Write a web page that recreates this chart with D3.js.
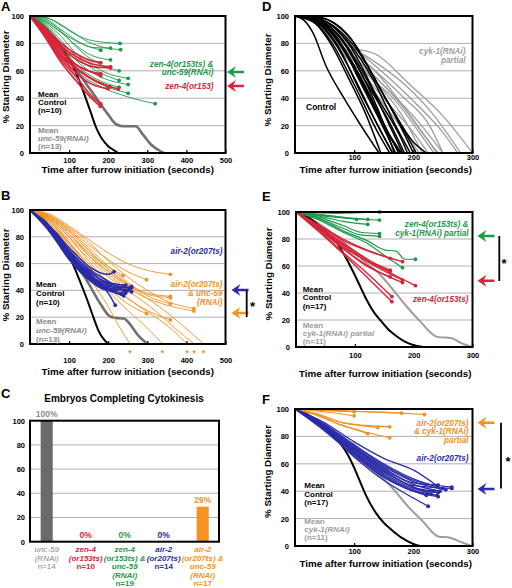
<!DOCTYPE html>
<html><head><meta charset="utf-8">
<script src="https://cdn.jsdelivr.net/npm/d3@7"></script>
<style>body{margin:0;background:#fff}svg{display:block}text{font-family:"Liberation Sans",Arial,sans-serif}</style>
</head><body><svg id="c" width="512" height="588"></svg>
<script>
// ---------- DATA ----------
const yTicks = [0,20,40,60,80,100];
const gridVals = [20,40,60,80];
const xTicks500 = [100,200,300,400,500];
const xTicks300 = [100,200,300];

// Panel A
const meanCtrlA = [[0,100],[30,94],[60,85],[80,78],[100,69],[120,57],[140,42],[155,30],[170,18],[185,10],[200,5],[215,2],[225,0]];
const meanUncA = [[0,100],[50,85],[100,68],[150,48],[180,36],[200,28],[220,21],[240,19.5],[270,19.5],[290,13],[310,6],[330,2],[342,0]];
const greenA = [
 [[0,100],[40,99],[80,93],[120,86],[160,82],[230,80]],
 [[0,100],[40,98],[80,90],[120,82],[160,77],[206,76.6]],
 [[0,100],[50,98],[100,90],[150,81],[190,77],[232,75.4]],
 [[0,100],[40,96],[80,88],[130,80],[181,75]],
 [[0,100],[40,96],[80,88],[120,78],[160,71],[206,68]],
 [[0,100],[40,95],[80,85],[120,72],[170,62],[210,57],[251,54.5]],
 [[0,100],[40,94],[80,82],[120,70],[170,60],[228,53]],
 [[0,100],[40,93],[80,80],[120,67],[170,57],[251,50]],
 [[0,100],[40,92],[80,78],[120,64],[170,54],[228,48]],
 [[0,100],[40,92],[80,78],[120,62],[170,52],[251,43.6]],
 [[0,100],[40,91],[80,76],[120,60],[170,50],[250,41],[320,36]],
 [[0,100],[40,97],[80,89],[120,77],[170,66],[228,60]]
];
const redA = [
 [[0,100],[40,91],[80,80],[120,72],[150,68],[181,66]],
 [[0,100],[40,90],[80,78],[120,70],[160,65],[206,63]],
 [[0,100],[40,90],[80,77],[120,68],[160,63],[206,62]],
 [[0,100],[40,88],[80,74],[120,64],[150,60],[181,56.4]],
 [[0,100],[40,87],[80,72],[120,62],[160,54],[204,48.4]],
 [[0,100],[40,87],[80,71],[120,61],[170,52],[226,46.7]],
 [[0,100],[40,85],[80,68],[120,55],[150,44],[181,35.8]],
 [[0,100],[40,84],[80,66],[120,52],[150,42],[180,34]],
 [[0,100],[40,86],[80,70],[120,58],[160,50],[200,47]],
 [[0,100],[40,89],[80,75],[120,64],[160,59],[181,58]]
];

// Panel B
const meanCtrlB = [[0,100],[30,95],[51,87],[75,80],[94,70],[115,56],[137,40],[150,30],[162,20],[175,10],[190,3],[200,0]];
const meanUncB = [[0,100],[50,87],[100,68],[150,45],[180,30],[205,20.5],[220,19.5],[240,19],[255,15],[275,7],[300,0]];
const blueB = [
 [[0,100],[50,88],[100,70],[150,55],[200,45],[240,43]],
 [[0,100],[50,86],[100,68],[150,53],[200,43],[260,42]],
 [[0,100],[50,87],[100,69],[150,52],[200,42],[250,40]],
 [[0,100],[50,85],[100,66],[150,50],[200,40],[245,38]],
 [[0,100],[50,87],[100,67],[150,52],[200,41],[260,39]],
 [[0,100],[50,84],[100,64],[150,49],[200,40],[240,36]],
 [[0,100],[50,88],[100,72],[150,58],[200,52],[215,54]],
 [[0,100],[50,85],[100,65],[150,50],[200,38],[218,29]],
 [[0,100],[50,86],[100,67],[150,51],[200,42],[235,37]],
 [[0,100],[50,84],[100,63],[150,48],[200,40],[255,41]],
 [[0,100],[50,87],[100,68],[150,54],[200,46],[245,44]],
 [[0,100],[50,86],[100,66],[150,52],[200,44],[230,41]],
 [[0,100],[50,85],[100,65],[150,50],[200,41],[260,43]],
 [[0,100],[50,88],[100,70],[150,56],[200,47],[240,40]]
];
const orangeB = [
 [[0,100],[50,97],[100,88],[150,78],[200,68],[250,60],[300,55],[359,52]],
 [[0,100],[50,96],[100,86],[150,74],[200,63],[250,54],[298,48]],
 [[0,100],[50,94],[100,82],[150,68],[200,58],[238,51]],
 [[0,100],[50,95],[100,84],[150,70],[200,56],[250,45],[300,38],[359,35.6]],
 [[0,100],[50,93],[100,80],[150,66],[200,54],[250,44],[300,37],[359,34.5]],
 [[0,100],[50,92],[100,78],[150,64],[200,50],[258,39]],
 [[0,100],[50,95],[100,85],[150,72],[200,58],[250,46],[300,36],[359,30]],
 [[0,100],[50,96],[100,87],[150,76],[200,62],[250,50],[300,40],[350,32],[419,26.4]],
 [[0,100],[50,94],[100,82],[150,68],[200,54],[250,42],[300,34],[350,29],[419,24.6]],
 [[0,100],[50,91],[100,75],[150,58],[200,42],[250,30],[298,22.6]],
 [[0,100],[50,92],[100,76],[150,60],[200,46],[250,34],[300,25],[359,18]],
 [[0,100],[50,90],[100,74],[150,57],[200,44],[230,40]]
];
const orangeDoneB = [
 [[0,100],[50,90],[100,72],[150,50],[200,28],[230,12],[256,0]],
 [[0,100],[50,92],[100,76],[150,58],[200,40],[250,25],[300,12],[339,0]],
 [[0,100],[50,93],[100,80],[150,62],[200,46],[250,34],[300,24],[350,14],[402,0]],
 [[0,100],[50,94],[100,82],[150,66],[200,52],[260,38],[320,25],[370,12],[420,0]],
 [[0,100],[50,95],[100,84],[150,70],[200,56],[260,42],[330,28],[390,14],[444,0]]
];

// Panel C
const cCats = ["unc-59 (RNAi)","zen-4 (or153ts)","zen-4 (or153ts) & unc-59 (RNAi)","air-2 (or207ts)","air-2 (or207ts) & unc-59 (RNAi)"];
const cValues = [100,0,0,0,29];
const cN = [14,10,19,14,17];
const cLabelLines = [["unc-59","(RNAi)"],["zen-4","(or153ts)"],["zen-4","(or153ts) &","unc-59","(RNAi)"],["air-2","(or207ts)"],["air-2","(or207ts) &","unc-59","(RNAi)"]];

// Panel D
const ctrlD = [
 [[0,100],[15,97],[30,88],[53,63],[80,42],[110,21],[142,0]],
 [[0,100],[30,97],[60,85],[100,55],[140,20],[165,0]],
 [[0,100],[30,96],[60,82],[100,50],[140,15],[160,0]],
 [[0,100],[30,98],[70,85],[110,52],[150,18],[170,0]],
 [[0,100],[30,97],[70,80],[110,45],[150,12],[165,0]],
 [[0,100],[30,99],[70,88],[120,55],[160,20],[182,0]],
 [[0,100],[30,98],[70,84],[120,48],[160,12],[178,0]],
 [[0,100],[40,97],[80,82],[120,52],[160,22],[185,0]],
 [[0,100],[40,98],[80,86],[130,55],[170,20],[195,0]],
 [[0,100],[40,96],[80,78],[120,45],[150,20],[180,0]],
 [[0,100],[40,99],[90,86],[140,50],[180,18],[200,0]],
 [[0,100],[30,97],[60,88],[100,62],[140,30],[175,0]],
 [[0,100],[40,98],[90,80],[140,40],[180,10],[190,0]],
 [[0,100],[40,99],[100,80],[150,42],[190,12],[205,0]],
 [[0,100],[40,98],[100,78],[160,35],[200,8],[222,0]],
 [[0,100],[30,96],[60,80],[90,55],[120,28],[145,0]],
 [[0,100],[40,97],[80,82],[110,60],[140,32],[168,0]]
];
const cykD = [
 [[0,100],[40,95],[84,79],[141,71],[194,50],[248,28],[300,0]],
 [[0,100],[40,95],[84,80],[130,68],[180,52],[230,30],[280,0]],
 [[0,100],[40,94],[80,80],[130,62],[180,42],[230,18],[250,0]],
 [[0,100],[40,95],[80,78],[130,58],[180,35],[220,12],[242,0]],
 [[0,100],[40,94],[80,76],[120,58],[170,38],[210,15],[235,0]],
 [[0,100],[40,95],[80,78],[120,62],[160,45],[210,22],[250,0]],
 [[0,100],[40,93],[80,74],[120,55],[160,35],[200,15],[225,0]],
 [[0,100],[40,94],[80,77],[130,55],[180,28],[215,0]],
 [[0,100],[40,96],[90,80],[140,62],[200,38],[250,15],[275,0]],
 [[0,100],[40,93],[80,73],[120,52],[160,30],[210,0]],
 [[0,100],[40,95],[85,78],[135,60],[190,30],[240,0]]
];

// Panel E
const meanCtrlE = [[0,100],[25,95],[47,87],[70,77],[85,66],[98,55],[110,44],[120,35],[132,26],[143,20],[157,13],[171,8],[185,4],[199,1.5],[216,0]];
const meanCykE = [[0,100],[40,91],[80,78],[120,62],[140,55],[160,45],[188,30],[211,19],[240,7.5],[265,6.5],[280,3],[300,0]];
const redE = [
 [[0,100],[40,90],[80,80],[120,72],[160,65.7]],
 [[0,100],[40,90],[80,79],[130,70],[181,63.2]],
 [[0,100],[40,88],[80,76],[120,65],[160,57]],
 [[0,100],[40,87],[80,74],[120,64],[160,56]],
 [[0,100],[40,88],[80,75],[130,61],[181,49.6]],
 [[0,100],[40,87],[80,73],[130,58],[181,47.7]],
 [[0,100],[40,89],[80,77],[140,60],[203,45.4]],
 [[0,100],[40,86],[80,70],[120,55],[163,37.3]],
 [[0,100],[40,85],[80,69],[120,52],[163,33.6]],
 [[0,100],[40,87],[80,73],[120,60],[160,52]]
];
const greenE = [
 [[0,100],[70,99],[142,100]],
 [[0,100],[40,98],[80,96],[103,94.6]],
 [[0,100],[40,98],[80,96],[122,94.5]],
 [[0,100],[50,97],[100,95],[142,94]],
 [[0,100],[40,97],[80,93],[122,90.8]],
 [[0,100],[40,96],[80,90],[110,85],[142,84]],
 [[0,100],[40,95],[80,88],[110,83],[142,82]],
 [[0,100],[40,95],[80,86],[120,79],[150,72],[170,71],[185,65],[203,65]],
 [[0,100],[40,94],[80,85],[120,77],[150,68],[181,58.7]]
];

// Panel F
const meanCtrlF = [[0,100],[25,95],[47,88],[75,76],[90,66],[98,59],[110,47],[120,37],[137,24],[150,17],[160,13],[182,5.5],[200,1.5],[211,0]];
const meanCykF = [[0,100],[40,90],[80,76],[120,60],[160,44.5],[194,27.5],[216,18],[242,7],[262,6],[280,3],[298,0]];
const blueF = [
 [[0,100],[50,88],[100,72],[150,57],[200,46],[242,44.5]],
 [[0,100],[50,87],[100,70],[150,55],[200,44],[265,42]],
 [[0,100],[50,86],[100,68],[150,53],[200,42],[242,39]],
 [[0,100],[50,85],[100,67],[150,51],[200,40],[242,36]],
 [[0,100],[50,84],[100,66],[150,50],[200,40],[222,37]],
 [[0,100],[50,85],[100,65],[150,48],[200,35],[225,29]],
 [[0,100],[50,90],[100,76],[150,64],[202,55],[240,44]],
 [[0,100],[50,88],[100,73],[150,59],[200,48],[265,43]],
 [[0,100],[50,87],[100,71],[150,56],[200,45],[245,40]],
 [[0,100],[50,86],[100,69],[150,54],[200,43],[230,38]],
 [[0,100],[50,89],[100,74],[150,60],[200,49],[250,42]],
 [[0,100],[50,86],[100,68],[150,52],[200,41],[240,37]],
 [[0,100],[50,88],[100,72],[150,58],[200,47],[255,41]],
 [[0,100],[50,87],[100,70],[150,55],[200,43],[235,40]]
];
const orangeF = [
 [[0,100],[50,99],[100,98]],
 [[0,100],[50,98],[100,95]],
 [[0,100],[60,99],[120,98],[180,97]],
 [[0,100],[60,99],[120,98],[180,97],[219,96]],
 [[0,100],[40,96],[80,90],[110,88],[140,86.5]],
 [[0,100],[40,96],[80,90],[120,88],[160,87]],
 [[0,100],[40,95],[80,88],[110,84],[123,82]],
 [[0,100],[40,95],[80,88],[120,83],[160,79]]
];

// ---------- STYLE ----------
const GREEN="#1b9a48", RED="#d8253a", BLUE="#2b2ba8", ORANGE="#f39223", DGRAY="#717171", LGRAY="#9d9d9d", TGRAY="#8a8a8a";
const FONT='"Liberation Sans", Arial, sans-serif';

const svg = d3.select("#c");
const defs = svg.append("defs");

function txt(g, x, y, s, o={}) {
  return g.append("text").attr("x",x).attr("y",y).text(s)
    .attr("font-size", o.size||8.5).attr("font-weight", o.weight||"bold")
    .attr("font-style", o.italic?"italic":"normal")
    .attr("fill", o.color||"#000").attr("text-anchor", o.anchor||"start");
}
function block(g, x, y, dy, arr, o) { arr.forEach((s,i)=>txt(g,x,y+i*dy,s,o)); }
function arrow(g, x, y, color) {
  g.append("path").attr("fill",color)
   .attr("d",`M${x},${y}L${x+9},${y-6}L${x+6.5},${y-1.3}L${x+17},${y-1.3}L${x+17},${y+1.3}L${x+6.5},${y+1.3}L${x+9},${y+6}Z`);
}
function sigBar(g, x, y1, y2, sx, sy) {
  g.append("line").attr("x1",x).attr("x2",x).attr("y1",y1).attr("y2",y2).attr("stroke","#000").attr("stroke-width",1.8);
  txt(g, sx, sy, "*", {size:13});
}

function panel(o) {
  const x = d3.scaleLinear().domain([0,o.xmax]).range([o.x0,o.x1]);
  const y = d3.scaleLinear().domain([0,100]).range([o.y0,o.y1]);
  const g = svg.append("g");
  g.selectAll(null).data(gridVals).join("line")
    .attr("x1",o.x0).attr("x2",o.x1).attr("y1",d=>y(d)).attr("y2",d=>y(d))
    .attr("stroke","#b0b0b0").attr("stroke-width",1);
  defs.append("clipPath").attr("id","clip"+o.id).append("rect")
    .attr("x",o.x0).attr("y",o.y1).attr("width",o.x1-o.x0).attr("height",o.y0-o.y1);
  const lg = g.append("g").attr("clip-path",`url(#clip${o.id})`);
  const line = d3.line().x(d=>x(d[0])).y(d=>y(d[1])).curve(d3.curveMonotoneX);
  o.groups.forEach(gr=>{
    lg.selectAll(null).data(gr.lines).join("path").attr("d",line)
      .attr("fill","none").attr("stroke",gr.color).attr("stroke-width",gr.w)
      .attr("stroke-linejoin","round").attr("stroke-linecap","round");
    if (gr.dots) g.selectAll(null).data(gr.lines).join("circle")
      .attr("cx",l=>x(l[l.length-1][0])).attr("cy",l=>y(l[l.length-1][1]))
      .attr("r",1.9).attr("fill",gr.color);
  });
  g.append("rect").attr("x",o.x0).attr("y",o.y1).attr("width",o.x1-o.x0).attr("height",o.y0-o.y1)
    .attr("fill","none").attr("stroke","#000").attr("stroke-width",2);
  const ya = g.append("g").attr("transform",`translate(${o.x0},0)`)
    .call(d3.axisLeft(y).tickValues(yTicks).tickSize(0).tickPadding(o.yPad||6));
  ya.select(".domain").remove();
  ya.selectAll("text").attr("font-size",7.5).attr("font-weight","bold").attr("font-family",FONT).attr("fill","#000");
  const xa = g.append("g").attr("transform",`translate(0,${o.y0})`)
    .call(d3.axisBottom(x).tickValues(o.xticks).tickSizeInner(-3).tickSizeOuter(0).tickPadding(o.xPad));
  xa.select(".domain").remove();
  xa.selectAll("line").attr("stroke","#000").attr("stroke-width",1.2);
  xa.selectAll("text").attr("font-size",7.5).attr("font-weight","bold").attr("font-family",FONT).attr("fill","#000");
  txt(g, (o.x0+o.x1)/2+o.tdx, o.tY, "Time after furrow initiation (seconds)", {size:9.8, anchor:"middle"});
  g.append("text").attr("transform",`translate(${o.lX},${o.lY}) rotate(-90)`).attr("text-anchor","middle")
    .attr("font-size",9.8).attr("font-weight","bold").text("% Starting Diameter");
  txt(g, o.letter[1], o.letter[2], o.letter[0], {size:13});
  return {x,y,g};
}

const MS = 8;   // size of the "Mean" label blocks
const LS = 8.2; // size of italic series labels

// ---------- PANEL A ----------
const A = panel({id:"A", xmax:500, x0:30, x1:225.5, y0:153, y1:16, xticks:xTicks500, xPad:5, tY:173, tdx:0,
  lX:8.8, lY:77, letter:["A",1,11],
  groups:[{lines:[meanUncA],color:DGRAY,w:2.6},{lines:[meanCtrlA],color:"#000",w:2},
          {lines:greenA,color:GREEN,w:0.9,dots:true},{lines:redA,color:RED,w:1.7,dots:true}]});
block(A.g, 213.5, 66.5, 8.6, ["zen-4(or153ts) &","unc-59(RNAi)"], {color:GREEN, italic:true, anchor:"end", size:LS});
txt(A.g, 213.5, 88.5, "zen-4(or153)", {color:RED, italic:true, anchor:"end", size:LS});
block(A.g, 38, 96.5, 8, ["Mean","Control","(n=10)"], {size:MS});
txt(A.g, 38, 133.3, "Mean", {color:TGRAY, size:MS});
txt(A.g, 38, 141, "unc-59(RNAi)", {color:TGRAY, size:MS, italic:true});
txt(A.g, 38, 148.7, "(n=13)", {color:TGRAY, size:MS});
arrow(A.g, 227, 72, GREEN); arrow(A.g, 227, 86, RED);

// ---------- PANEL B ----------
const B = panel({id:"B", xmax:500, x0:30, x1:225.5, y0:344, y1:210, xticks:xTicks500, xPad:14, tY:375, tdx:0,
  lX:8.8, lY:275, letter:["B",1,200],
  groups:[{lines:[meanUncB],color:DGRAY,w:2.6},{lines:[meanCtrlB],color:"#000",w:2},
          {lines:orangeB,color:ORANGE,w:0.9,dots:true},{lines:orangeDoneB,color:ORANGE,w:0.9},
          {lines:blueB,color:BLUE,w:1.5,dots:true}]});
B.g.selectAll(null).data(orangeDoneB).join("text").attr("x",l=>B.x(l[l.length-1][0])).attr("y",355.5)
  .attr("text-anchor","middle").attr("font-size",9).attr("font-weight","bold").attr("fill",ORANGE).text("*");
txt(B.g, 222.5, 253.5, "air-2(or207ts)", {color:BLUE, italic:true, anchor:"end", size:LS});
block(B.g, 222.5, 287.3, 8.6, ["air-2(or207ts)","& unc-59","(RNAi)"], {color:ORANGE, italic:true, anchor:"end", size:LS});
block(B.g, 36, 287, 9, ["Mean","Control","(n=10)"], {size:MS});
txt(B.g, 36, 323.5, "Mean", {color:TGRAY, size:MS});
txt(B.g, 36, 332.5, "unc-59(RNAi)", {color:TGRAY, italic:true, size:MS});
txt(B.g, 36, 341.5, "(n=13)", {color:TGRAY, size:MS});
arrow(B.g, 231.5, 290, BLUE); arrow(B.g, 231.5, 313, ORANGE);
sigBar(B.g, 246.7, 290, 317, 250, 311);

// ---------- PANEL C ----------
{
  const g = svg.append("g");
  const x = d3.scaleBand().domain(cCats).range([27.2,222.2]).paddingInner(0.69).paddingOuter(0.345);
  const y = d3.scaleLinear().domain([0,100]).range([541.7,420.7]);
  const cColors = [TGRAY, RED, GREEN, BLUE, ORANGE];
  const barColors = ["#6b6b6b", RED, GREEN, BLUE, "#f7931e"];
  g.selectAll(null).data(gridVals).join("line").attr("x1",30).attr("x2",219).attr("y1",d=>y(d)).attr("y2",d=>y(d))
    .attr("stroke","#b0b0b0");
  g.selectAll(null).data(cCats).join("rect").attr("x",d=>x(d)).attr("width",x.bandwidth())
    .attr("y",(d,i)=>y(cValues[i])).attr("height",(d,i)=>y(0)-y(cValues[i])).attr("fill",(d,i)=>barColors[i]);
  g.append("rect").attr("x",30).attr("y",420.7).attr("width",189).attr("height",121).attr("fill","none").attr("stroke","#000").attr("stroke-width",2);
  const ya = g.append("g").attr("transform","translate(30,0)").call(d3.axisLeft(y).tickValues(yTicks).tickSize(0).tickPadding(5));
  ya.select(".domain").remove();
  ya.selectAll("text").attr("font-size",7.5).attr("font-weight","bold").attr("font-family",FONT).attr("fill","#000");
  g.selectAll(null).data(cCats).join("text").attr("x",d=>x(d)+x.bandwidth()/2).attr("y",(d,i)=>y(cValues[i])-3.5)
    .attr("text-anchor","middle").attr("font-size",8.5).attr("font-weight","bold").attr("fill",(d,i)=>cColors[i])
    .text((d,i)=>cValues[i]+"%");
  cCats.forEach((c,i)=>{
    const lines = cLabelLines[i].concat(["n="+cN[i]]);
    lines.forEach((s,j)=>txt(g, x(c)+x.bandwidth()/2, 552.3+j*8.45, s,
      {size:8, color:cColors[i], italic:j<lines.length-1, anchor:"middle", weight: i===0?"normal":"bold"}));
  });
  txt(g, 124, 402, "Embryos Completing Cytokinesis", {size:10, anchor:"middle"});
  txt(g, 1, 398, "C", {size:13});
}

// ---------- PANEL D ----------
const D = panel({id:"D", xmax:300, x0:295, x1:472.5, y0:153, y1:16, xticks:xTicks300, xPad:2, tY:172.5, tdx:2,
  lX:271, lY:80, letter:["D",262,11],
  groups:[{lines:cykD,color:LGRAY,w:1.3},{lines:ctrlD,color:"#000",w:1.5}]});
block(D.g, 465.5, 54.3, 8.7, ["cyk-1(RNAi)","partial"], {color:LGRAY, italic:true, anchor:"end", size:LS});
txt(D.g, 306, 110, "Control", {});

// ---------- PANEL E ----------
const E = panel({id:"E", xmax:300, x0:296, x1:472.5, y0:347, y1:212, xticks:xTicks300, xPad:5.5, tY:376.5, tdx:1,
  lX:272, lY:274, letter:["E",262,201],
  groups:[{lines:[meanCykE],color:LGRAY,w:2},{lines:[meanCtrlE],color:"#000",w:2},
          {lines:greenE,color:GREEN,w:1.2,dots:true},{lines:redE,color:RED,w:1.4,dots:true}]});
block(E.g, 468.5, 227, 9, ["zen-4(or153ts) &","cyk-1(RNAi) partial"], {color:GREEN, italic:true, anchor:"end", size:LS});
txt(E.g, 468.5, 301.7, "zen-4(or153ts)", {color:RED, italic:true, anchor:"end", size:LS});
block(E.g, 302.7, 292, 8.3, ["Mean","Control","(n=17)"], {size:MS});
txt(E.g, 302.7, 327.5, "Mean", {color:LGRAY, size:MS});
txt(E.g, 302.7, 335.8, "cyk-1(RNAi) partial", {color:LGRAY, italic:true, size:MS});
txt(E.g, 302.7, 344.1, "(n=11)", {color:LGRAY, size:MS});
arrow(E.g, 477.5, 236, GREEN); arrow(E.g, 477.5, 280.7, RED);
sigBar(E.g, 499.3, 236, 281, 501.5, 268);

// ---------- PANEL F ----------
const F = panel({id:"F", xmax:300, x0:295, x1:472.5, y0:546, y1:409, xticks:xTicks300, xPad:3, tY:566.5, tdx:2,
  lX:271, lY:471.5, letter:["F",262,404],
  groups:[{lines:[meanCykF],color:LGRAY,w:2},{lines:[meanCtrlF],color:"#000",w:2},
          {lines:orangeF,color:ORANGE,w:1.2,dots:true},{lines:blueF,color:BLUE,w:1.3,dots:true}]});
block(F.g, 468.5, 425.5, 8.7, ["air-2(or207ts)","& cyk-1(RNAi)","partial"], {color:ORANGE, italic:true, anchor:"end", size:LS});
txt(F.g, 468.5, 460.5, "air-2(or207ts)", {color:BLUE, italic:true, anchor:"end", size:LS});
block(F.g, 304.3, 488, 8.6, ["Mean","Control","(n=17)"], {size:MS});
txt(F.g, 304.3, 523.5, "Mean", {color:LGRAY, size:MS});
txt(F.g, 304.3, 531.8, "cyk-1(RNAi)", {color:LGRAY, italic:true, size:MS});
txt(F.g, 304.3, 540.1, "(n=11)", {color:LGRAY, size:MS});
arrow(F.g, 477.5, 422.7, ORANGE); arrow(F.g, 477.5, 489, BLUE);
sigBar(F.g, 501, 422.7, 488.5, 505.5, 466);
</script></body></html>
